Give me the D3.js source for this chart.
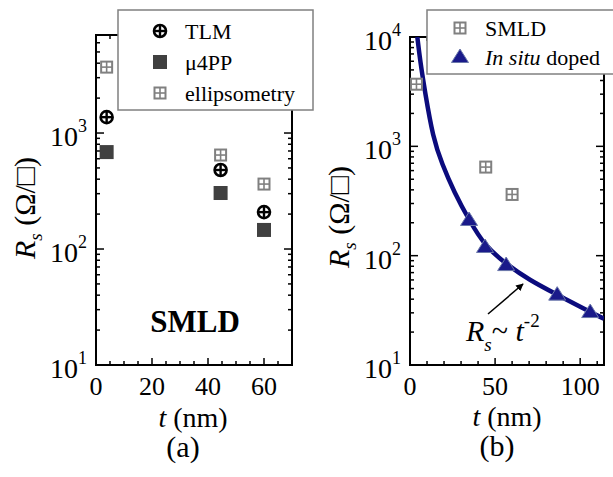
<!DOCTYPE html>
<html>
<head>
<meta charset="utf-8">
<script src="https://cdn.jsdelivr.net/npm/d3@7"></script>
<style>
  body { margin: 0; background: #fff; }
</style>
</head>
<body>
<div id="wrapper"></div>
<script>
// panel (a) data
const tA = [3.8, 44.5, 60];
const tlmA = [1370, 480, 208];
const u4ppA = [685, 304, 146];
const ellipA = [3700, 646, 363];

// panel (b) data
const tSitu = [34.7, 44.1, 56.5, 86.5, 105.9];
const rSitu = [212, 120, 82, 44, 30.5];
// fit curve, points
const tFit = [4.3, 6, 8.8, 13.5, 18.8, 26, 34.7, 44.1, 56.5, 70, 86.5, 105.9, 114];
const rFit = [10000, 6000, 3160, 1200, 690, 380, 212, 122, 84, 60, 44, 30.5, 26.5];

const xTicksA = [0, 20, 40, 60];
const xTicksB = [0, 50, 100];
const yExpA = [1, 2, 3];
const yExpB = [1, 2, 3, 4];

const FONT = "'Liberation Serif', 'Times New Roman', Times, serif";

const svg = d3.select('#wrapper').append('svg')
    .attr('width', 613)
    .attr('height', 477)
    .attr('font-family', FONT)
    .style('font-family', FONT);

// 1. Scales
const xA = d3.scaleLinear().domain([0, 70]).range([96, 292]);
const yA = d3.scaleLog().domain([10, 7000]).range([365, 35]);
const xB = d3.scaleLinear().domain([0, 114]).range([410, 604]);
const yB = d3.scaleLog().domain([10, 10000]).range([365, 37]);

function drawFrame(x, y, majorX, minorStep, exps) {
    const g = svg.append('g');
    const [x0, x1] = x.range();
    const [y0, y1] = y.range();
    const [d0, d1] = x.domain();

    // x ticks, bottom and top
    d3.range(d0, d1 + 0.001, minorStep).forEach(v => {
        const len = majorX.includes(v) ? 7 : 4;
        g.append('line').attr('x1', x(v)).attr('x2', x(v))
            .attr('y1', y0).attr('y2', y0 - len);
        g.append('line').attr('x1', x(v)).attr('x2', x(v))
            .attr('y1', y1).attr('y2', y1 + len);
    });

    // y ticks (log), left and right
    const [l0, l1] = y.domain();
    for (let e = 1; e <= 4; e++) {
        for (let m = 1; m <= 9; m++) {
            const v = m * Math.pow(10, e);
            if (v < l0 || v > l1 * 1.0001) continue;
            const len = m === 1 ? 8 : 4;
            g.append('line').attr('x1', x0).attr('x2', x0 + len)
                .attr('y1', y(v)).attr('y2', y(v));
            g.append('line').attr('x1', x1).attr('x2', x1 - len)
                .attr('y1', y(v)).attr('y2', y(v));
        }
    }
    g.selectAll('line').attr('stroke', '#000').attr('stroke-width', 1.5);

    g.append('rect')
        .attr('x', x0).attr('y', y1)
        .attr('width', x1 - x0).attr('height', y0 - y1)
        .attr('fill', 'none')
        .attr('stroke', '#000')
        .attr('stroke-width', 2);

    // tick labels
    majorX.forEach(v => {
        g.append('text')
            .attr('x', x(v)).attr('y', y0 + 30)
            .attr('text-anchor', 'middle')
            .attr('font-size', 26)
            .text(v);
    });
    exps.forEach(e => {
        const t = g.append('text')
            .attr('x', x0 - 9).attr('y', y(Math.pow(10, e)) + 13)
            .attr('text-anchor', 'end')
            .attr('font-size', 28);
        t.append('tspan').text('10');
        t.append('tspan').attr('dy', -14).attr('font-size', 18).text(e);
    });
}

function yLabel(cx, cy) {
    const t = svg.append('text')
        .attr('transform', `translate(${cx},${cy}) rotate(-90)`)
        .attr('text-anchor', 'middle')
        .attr('font-size', 30);
    t.append('tspan').attr('font-style', 'italic').text('R');
    t.append('tspan').attr('font-style', 'italic').attr('font-size', 19).attr('dy', 7).text('s');
    t.append('tspan').attr('dy', -7).text(' (Ω/□)');
}

function xLabel(cx, cy, panel) {
    const t = svg.append('text')
        .attr('x', cx).attr('y', cy)
        .attr('text-anchor', 'middle')
        .attr('font-size', 28);
    t.append('tspan').attr('font-style', 'italic').text('t');
    t.append('tspan').text(' (nm)');
    svg.append('text')
        .attr('x', cx - 10).attr('y', cy + 30)
        .attr('text-anchor', 'middle')
        .attr('font-size', 30)
        .text(panel);
}

// markers
function tlmMark(g, cx, cy) {
    const m = g.append('g').attr('transform', `translate(${cx},${cy})`);
    m.append('circle').attr('r', 6).attr('fill', '#fff').attr('stroke', '#000').attr('stroke-width', 2.6);
    m.append('line').attr('x1', -6).attr('x2', 6).attr('stroke', '#000').attr('stroke-width', 2.4);
    m.append('line').attr('y1', -6).attr('y2', 6).attr('stroke', '#000').attr('stroke-width', 2.4);
}
function u4ppMark(g, cx, cy) {
    g.append('rect').attr('x', cx - 7).attr('y', cy - 7)
        .attr('width', 14).attr('height', 14).attr('fill', '#404040');
}
function ellipMark(g, cx, cy) {
    const m = g.append('g').attr('transform', `translate(${cx},${cy})`);
    m.append('rect').attr('x', -5.5).attr('y', -5.5).attr('width', 11).attr('height', 11)
        .attr('fill', '#fff').attr('stroke', '#808080').attr('stroke-width', 2);
    m.append('line').attr('x1', -5.5).attr('x2', 5.5).attr('stroke', '#808080').attr('stroke-width', 1.6);
    m.append('line').attr('y1', -5.5).attr('y2', 5.5).attr('stroke', '#808080').attr('stroke-width', 1.6);
}
function triMark(g, cx, cy) {
    g.append('path')
        .attr('d', `M${cx},${cy - 8}L${cx + 8.5},${cy + 5.5}L${cx - 8.5},${cy + 5.5}Z`)
        .attr('fill', '#1a1a8a')
        .attr('stroke', '#6b78aa')
        .attr('stroke-width', 1);
}

// ---- Panel (a) ----
drawFrame(xA, yA, xTicksA, 5, yExpA);
const ga = svg.append('g');
tA.forEach((t, i) => {
    ellipMark(ga, xA(t), yA(ellipA[i]));
    tlmMark(ga, xA(t), yA(tlmA[i]));
    u4ppMark(ga, xA(t), yA(u4ppA[i]));
});
svg.append('text')
    .attr('x', 195).attr('y', 332)
    .attr('text-anchor', 'middle')
    .attr('font-size', 31)
    .attr('font-weight', 'bold')
    .text('SMLD');
yLabel(35, 208);
xLabel(193, 427, '(a)');

// legend (a)
const la = svg.append('g');
la.append('rect').attr('x', 118).attr('y', 10).attr('width', 195).attr('height', 100)
    .attr('fill', '#fff').attr('stroke', '#808080').attr('stroke-width', 1.5);
tlmMark(la, 160, 31);
u4ppMark(la, 160, 62);
ellipMark(la, 160, 93);
[['TLM', 31], ['μ4PP', 62], ['ellipsometry', 93]].forEach(([s, y]) => {
    la.append('text').attr('x', 185).attr('y', y + 8).attr('font-size', 22).text(s);
});

// ---- Panel (b) ----
drawFrame(xB, yB, xTicksB, 10, yExpB);
const gb = svg.append('g');
svg.append('clipPath').attr('id', 'clipB').append('rect')
    .attr('x', 410).attr('y', 37).attr('width', 194).attr('height', 328);

const fitLine = d3.line()
    .x(d => xB(d[0]))
    .y(d => yB(d[1]))
    .curve(d3.curveBasis);
gb.append('path')
    .attr('d', fitLine(d3.zip(tFit, rFit)))
    .attr('clip-path', 'url(#clipB)')
    .attr('fill', 'none')
    .attr('stroke', '#0b0b7d')
    .attr('stroke-width', 4.5);

tA.forEach((t, i) => ellipMark(gb, xB(t), yB(ellipA[i])));
tSitu.forEach((t, i) => triMark(gb, xB(t), yB(rSitu[i])));

// annotation
svg.append('defs').append('marker')
    .attr('id', 'arrow')
    .attr('viewBox', '0 0 10 10')
    .attr('refX', 9).attr('refY', 5)
    .attr('markerWidth', 5).attr('markerHeight', 5)
    .attr('orient', 'auto')
    .append('path').attr('d', 'M0,0L10,5L0,10Z').attr('fill', '#000');
svg.append('line')
    .attr('x1', 488).attr('y1', 314)
    .attr('x2', 523).attr('y2', 284)
    .attr('stroke', '#000').attr('stroke-width', 1.5)
    .attr('marker-end', 'url(#arrow)');
const ann = svg.append('text').attr('x', 466).attr('y', 341).attr('font-size', 30);
ann.append('tspan').attr('font-style', 'italic').text('R');
ann.append('tspan').attr('font-style', 'italic').attr('font-size', 19).attr('dy', 10).text('s');
ann.append('tspan').attr('dy', -10).text('~ ');
ann.append('tspan').attr('font-style', 'italic').text('t');
ann.append('tspan').attr('font-size', 19).attr('dy', -14).text('-2');

yLabel(349, 217);
xLabel(507, 426, '(b)');

// legend (b)
const lb = svg.append('g');
lb.append('rect').attr('x', 427).attr('y', 10).attr('width', 190).attr('height', 64)
    .attr('fill', '#fff').attr('stroke', '#808080').attr('stroke-width', 1.5);
ellipMark(lb, 460, 28);
triMark(lb, 460, 57);
lb.append('text').attr('x', 485).attr('y', 36).attr('font-size', 22).text('SMLD');
const lt = lb.append('text').attr('x', 485).attr('y', 65).attr('font-size', 22);
lt.append('tspan').attr('font-style', 'italic').text('In situ');
lt.append('tspan').text(' doped');
</script>
</body>
</html>
